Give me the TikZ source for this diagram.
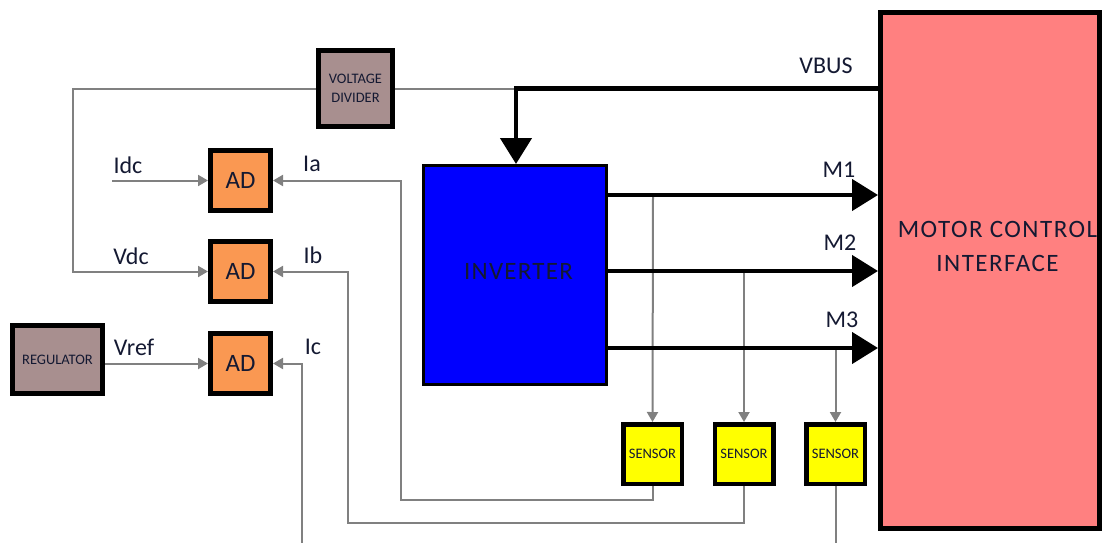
\documentclass[tikz,border=0pt]{standalone}
\usepackage{fontspec}
\setmainfont{Carlito}
\usetikzlibrary{arrows.meta,calc}
\definecolor{txt}{RGB}{20,25,50}
\definecolor{vdfill}{RGB}{168,143,143}
\definecolor{adfill}{RGB}{250,152,82}
\definecolor{mcifill}{RGB}{255,128,128}
\definecolor{invfill}{RGB}{0,0,255}
\definecolor{senfill}{RGB}{255,255,0}
\definecolor{wire}{RGB}{128,128,128}
\tikzset{
  blk/.style={draw=black, line width=5pt, inner sep=0pt, text=txt, align=center},
  sig/.style={draw=wire, line width=2pt},
  bus/.style={draw=black, line width=4.5pt},
  smalltip/.style={-{Triangle[length=10pt,width=11pt]}},
  bigtip/.style={-{Triangle[length=26pt,width=31pt]}},
  lbl/.style={text=txt, inner sep=0pt, font=\fontsize{24}{24}\selectfont},
  tiny/.style={font=\fontsize{14.5}{19}\selectfont}
}
\begin{document}
\begin{tikzpicture}[x=1pt,y=-1pt]
\useasboundingbox (0,0) rectangle (1105,543);
% blocks
\node[blk, fill=vdfill, minimum width=74pt, minimum height=75pt, tiny] (vd) at (355.5,88.5) {VOLTAGE\\DIVIDER};
\node[blk, fill=vdfill, minimum width=90pt, minimum height=68pt, tiny] (reg) at (57.5,359.5) {REGULATOR};
\node[blk, fill=adfill, minimum width=60pt, minimum height=60pt, font=\fontsize{25}{25}\selectfont] (ad1) at (240.5,180.5) {AD};
\node[blk, fill=adfill, minimum width=60pt, minimum height=60pt, font=\fontsize{25}{25}\selectfont] (ad2) at (240.5,271.5) {AD};
\node[blk, fill=adfill, minimum width=60pt, minimum height=60pt, font=\fontsize{25}{25}\selectfont] (ad3) at (240.5,363.5) {AD};
\node[blk, line width=3pt, fill=invfill, minimum width=183pt, minimum height=219pt] (inv) at (515,275) {};
\node[blk, fill=mcifill, minimum width=219pt, minimum height=516pt] (mci) at (990,270.5) {};
\node[blk, line width=4.5pt, fill=senfill, minimum width=58.5pt, minimum height=59.5pt, tiny] (s1) at (652.5,454) {SENSOR};
\node[blk, line width=4.5pt, fill=senfill, minimum width=58.5pt, minimum height=59.5pt, tiny] (s2) at (744,454) {SENSOR};
\node[blk, line width=4.5pt, fill=senfill, minimum width=58.5pt, minimum height=59.5pt, tiny] (s3) at (835.5,454) {SENSOR};
% block texts
\node[text=txt, inner sep=0pt, font=\fontsize{25}{25}\selectfont\addfontfeature{LetterSpace=5}] (invtxt) at (518.5,271) {INVERTER};
\node[text=txt, inner sep=0pt, align=center, font=\fontsize{25}{34}\selectfont\addfontfeature{LetterSpace=6}] (mcitxt) at (997.5,246) {MOTOR CONTROL\\INTERFACE};
% helper coordinates
\coordinate (vdl) at (73,88.5);
\coordinate (vbj) at (516,88.5);
\coordinate (idc) at (112,180.5);
\coordinate (iac) at (401,500);
\coordinate (ibc) at (348,522.5);
\coordinate (icb) at (302,543);
\coordinate (s3b) at (835.5,543);
\coordinate (m1) at (608,195);
\coordinate (m2) at (608,271);
\coordinate (m3) at (608,348);
\coordinate (t1) at (653,195);
\coordinate (t2) at (744,271);
\coordinate (t3) at (835.5,348);
% signal wires
\draw[sig, smalltip] (vd.west) -- (vdl) |- (ad2.west);
\draw[sig] (vd.east) -- (vbj);
\draw[sig, smalltip] (idc) -- (ad1.west);
\draw[sig, smalltip] (reg.east |- ad3.west) -- (ad3.west);
\draw[sig, smalltip] (s1.south) |- (iac) |- (ad1.east);
\draw[sig, smalltip] (s2.south) |- (ibc) |- (ad2.east);
\draw[sig, smalltip] (icb) |- (ad3.east);
\draw[sig] (s3.south) -- (s3b);
\draw[sig, smalltip] (t1) -- (s1.north);
\draw[sig, smalltip] (t2) -- (s2.north);
\draw[sig, smalltip] (t3) -- (s3.north);
% bus lines
\draw[bus, bigtip] (mci.west |- vbj) -- (vbj) -- (vbj |- inv.north);
\draw[bus, bigtip] (m1) -- (mci.west |- m1);
\draw[bus, bigtip] (m2) -- (mci.west |- m2);
\draw[bus, bigtip] (m3) -- (mci.west |- m3);
% labels
\node[lbl] (lidc) at (128,165) {Idc};
\node[lbl] (lvdc) at (131,256) {Vdc};
\node[lbl] (lvref) at (134,347) {Vref};
\node[lbl] (lia) at (312,164) {Ia};
\node[lbl] (lib) at (313,255) {Ib};
\node[lbl] (lic) at (313,347) {Ic};
\node[lbl] (lvbus) at (826,66) {VBUS};
\node[lbl] (lm1) at (839,170) {M1};
\node[lbl] (lm2) at (840,243) {M2};
\node[lbl] (lm3) at (842,320) {M3};
\end{tikzpicture}
\end{document}
